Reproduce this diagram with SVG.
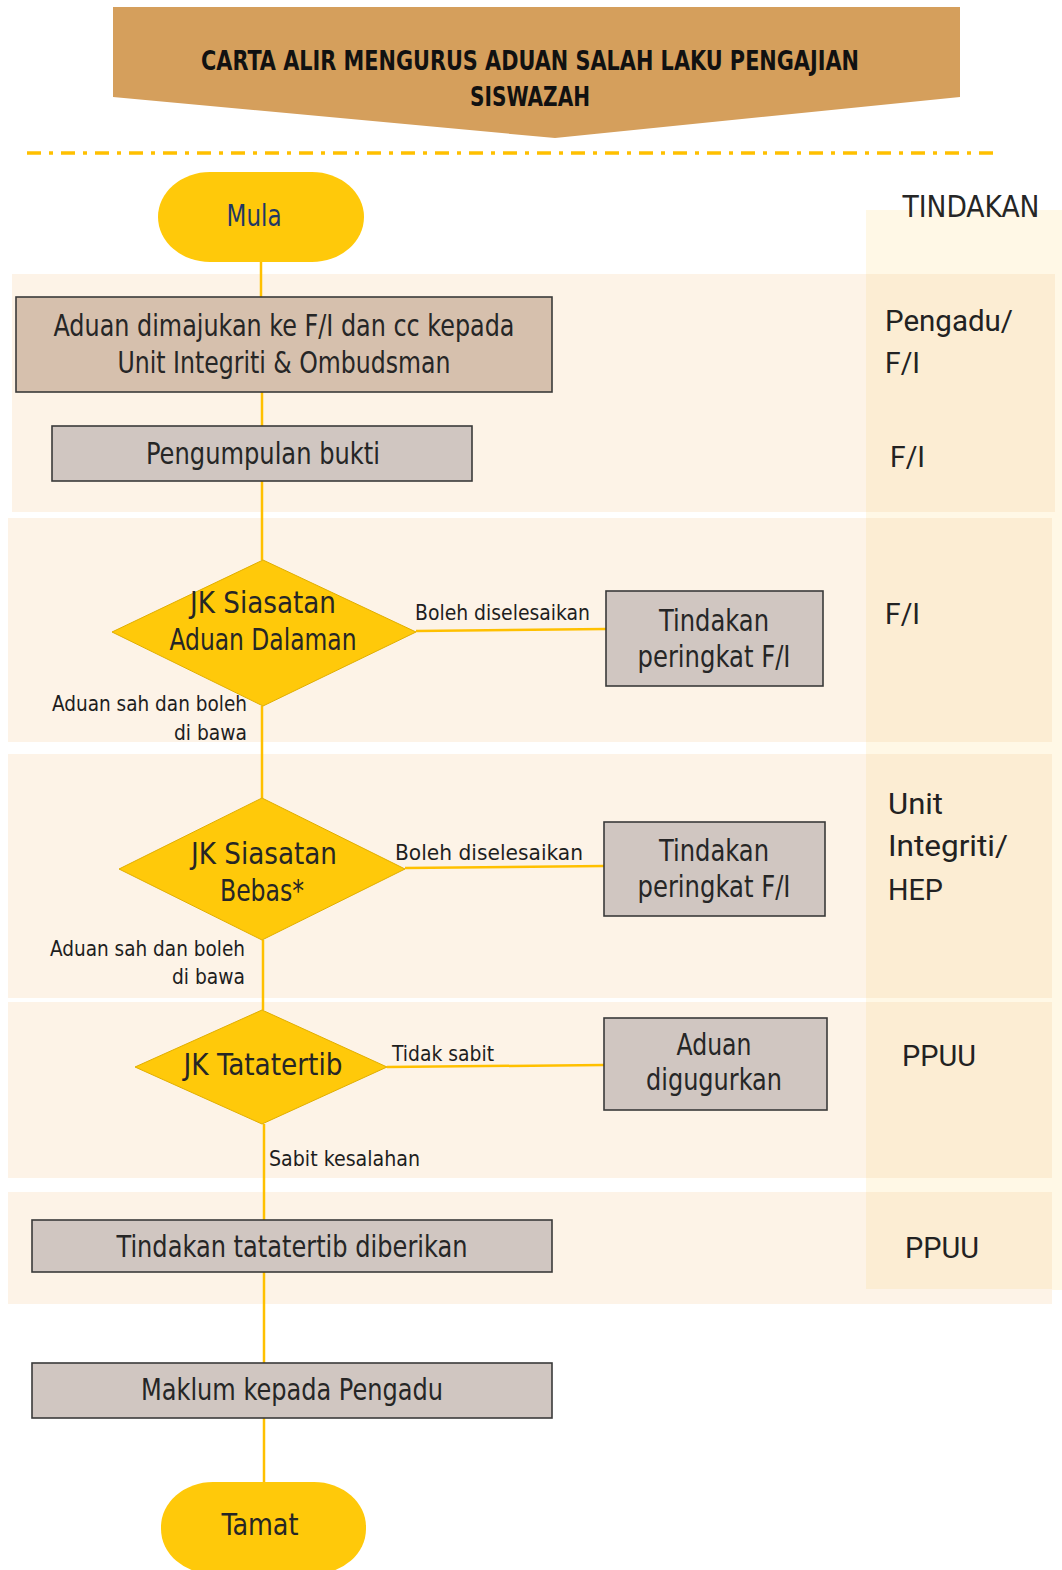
<svg xmlns="http://www.w3.org/2000/svg" width="1062" height="1570" viewBox="0 0 1062 1570">
<style>
.lane{fill:#FDF3E7}
.col{fill:#FFF8E6}
.ov{fill:#FCEDD3}
.box{fill:#D0C6C1;stroke:#3A3A3A;stroke-width:1.6}
.box1{fill:#D6C0AD;stroke:#3A3A3A;stroke-width:1.6}
.dia{fill:#FFC90A;stroke:#E0AE00;stroke-width:1}
.term{fill:#FFC90A}
.t{font-family:"Liberation Sans Narrow","DejaVu Sans Condensed","Roboto Condensed",Roboto,sans-serif;font-size:30px;fill:#262626;text-anchor:middle}
.s{font-family:"Liberation Sans Narrow","DejaVu Sans Condensed","Roboto Condensed",Roboto,sans-serif;font-size:21px;fill:#1E1E1E}
.r{font-family:Roboto,"Liberation Sans",sans-serif;font-size:30px;fill:#222}
.ttl{font-family:"Liberation Sans Narrow","DejaVu Sans Condensed","Roboto Condensed",Roboto,sans-serif;font-size:27px;font-weight:700;fill:#111;text-anchor:middle}
.c{stroke:#FFC000;stroke-width:2.5;fill:none}
</style>

<g id="background">
<rect class="col" x="866" y="210" width="196" height="1080"/>
<rect class="lane" x="12" y="274" width="1043" height="238"/>
<rect class="lane" x="8" y="518" width="1044" height="224"/>
<rect class="lane" x="8" y="754" width="1044" height="244"/>
<rect class="lane" x="8" y="1002" width="1044" height="176"/>
<rect class="lane" x="8" y="1192" width="1044" height="112"/>
<rect class="ov" x="866" y="274" width="189" height="238"/>
<rect class="ov" x="866" y="518" width="186" height="224"/>
<rect class="ov" x="866" y="754" width="186" height="244"/>
<rect class="ov" x="866" y="1002" width="186" height="176"/>
<rect class="ov" x="866" y="1192" width="186" height="97"/>
</g>

<g id="header">
<polygon points="113,7 960,7 960,97 555,138 113,97" fill="#D59F5C"/>
<text class="ttl" x="530" y="70" textLength="658" lengthAdjust="spacingAndGlyphs">CARTA ALIR MENGURUS ADUAN SALAH LAKU PENGAJIAN</text>
<text class="ttl" x="530" y="106" textLength="120" lengthAdjust="spacingAndGlyphs">SISWAZAH</text>
<line x1="27" y1="153" x2="997" y2="153" stroke="#FFC000" stroke-width="3.5" stroke-dasharray="14 8 4 8"/>
</g>

<g id="connectors">
<line class="c" x1="261" y1="262" x2="261" y2="297"/>
<line class="c" x1="262" y1="392" x2="262" y2="426"/>
<line class="c" x1="262" y1="481" x2="262" y2="560"/>
<line class="c" x1="262" y1="706" x2="262" y2="798"/>
<line class="c" x1="263" y1="940" x2="263" y2="1010"/>
<line class="c" x1="264" y1="1124" x2="264" y2="1220"/>
<line class="c" x1="264" y1="1272" x2="264" y2="1363"/>
<line class="c" x1="264" y1="1418" x2="264" y2="1482"/>
<line class="c" x1="416" y1="631" x2="606" y2="629"/>
<line class="c" x1="405" y1="868" x2="604" y2="866"/>
<line class="c" x1="387" y1="1067" x2="604" y2="1065"/>
<text class="s" x="415" y="620" textLength="175" lengthAdjust="spacingAndGlyphs">Boleh diselesaikan</text>
<text class="s" x="247" y="711" text-anchor="end" textLength="195" lengthAdjust="spacingAndGlyphs">Aduan sah dan boleh</text>
<text class="s" x="247" y="740" text-anchor="end" textLength="73" lengthAdjust="spacingAndGlyphs">di bawa</text>
<text class="s" x="395" y="860" textLength="188" lengthAdjust="spacingAndGlyphs">Boleh diselesaikan</text>
<text class="s" x="245" y="956" text-anchor="end" textLength="195" lengthAdjust="spacingAndGlyphs">Aduan sah dan boleh</text>
<text class="s" x="245" y="984" text-anchor="end" textLength="73" lengthAdjust="spacingAndGlyphs">di bawa</text>
<text class="s" x="392" y="1061" textLength="102" lengthAdjust="spacingAndGlyphs">Tidak sabit</text>
<text class="s" x="269" y="1166" textLength="151" lengthAdjust="spacingAndGlyphs">Sabit kesalahan</text>
</g>

<g id="mula">
<rect class="term" x="158" y="172" width="206" height="90" rx="52" ry="45"/>
<text class="t" x="254" y="226" font-size="28" style="fill:#1F3864" textLength="55" lengthAdjust="spacingAndGlyphs">Mula</text>
</g>

<g id="aduan-dimajukan">
<rect class="box1" x="16" y="297" width="536" height="95"/>
<text class="t" x="284" y="336" textLength="461" lengthAdjust="spacingAndGlyphs">Aduan dimajukan ke F/I dan cc kepada</text>
<text class="t" x="284" y="373" textLength="333" lengthAdjust="spacingAndGlyphs">Unit Integriti &amp; Ombudsman</text>
</g>

<g id="pengumpulan-bukti">
<rect class="box" x="52" y="426" width="420" height="55"/>
<text class="t" x="263" y="464" textLength="234" lengthAdjust="spacingAndGlyphs">Pengumpulan bukti</text>
</g>

<g id="jk-siasatan-dalaman">
<polygon class="dia" points="263,560 416,632 263,706 112,632"/>
<text class="t" x="263" y="613" textLength="146" lengthAdjust="spacingAndGlyphs">JK Siasatan</text>
<text class="t" x="263" y="650" textLength="187" lengthAdjust="spacingAndGlyphs">Aduan Dalaman</text>
</g>

<g id="tindakan-fi-1">
<rect class="box" x="606" y="591" width="217" height="95"/>
<text class="t" x="714" y="631" textLength="110" lengthAdjust="spacingAndGlyphs">Tindakan</text>
<text class="t" x="714" y="667" textLength="153" lengthAdjust="spacingAndGlyphs">peringkat F/I</text>
</g>

<g id="jk-siasatan-bebas">
<polygon class="dia" points="262,798 405,869 262,940 119,869"/>
<text class="t" x="264" y="864" textLength="146" lengthAdjust="spacingAndGlyphs">JK Siasatan</text>
<text class="t" x="262" y="901" textLength="84" lengthAdjust="spacingAndGlyphs">Bebas*</text>
</g>

<g id="tindakan-fi-2">
<rect class="box" x="604" y="822" width="221" height="94"/>
<text class="t" x="714" y="861" textLength="110" lengthAdjust="spacingAndGlyphs">Tindakan</text>
<text class="t" x="714" y="897" textLength="153" lengthAdjust="spacingAndGlyphs">peringkat F/I</text>
</g>

<g id="jk-tatatertib">
<polygon class="dia" points="262,1010 387,1067 262,1124 135,1067"/>
<text class="t" x="263" y="1075" textLength="159" lengthAdjust="spacingAndGlyphs">JK Tatatertib</text>
</g>

<g id="aduan-digugurkan">
<rect class="box" x="604" y="1018" width="223" height="92"/>
<text class="t" x="714" y="1055" textLength="75" lengthAdjust="spacingAndGlyphs">Aduan</text>
<text class="t" x="714" y="1090" textLength="136" lengthAdjust="spacingAndGlyphs">digugurkan</text>
</g>

<g id="tindakan-tatatertib">
<rect class="box" x="32" y="1220" width="520" height="52"/>
<text class="t" x="292" y="1257" textLength="351" lengthAdjust="spacingAndGlyphs">Tindakan tatatertib diberikan</text>
</g>

<g id="maklum-pengadu">
<rect class="box" x="32" y="1363" width="520" height="55"/>
<text class="t" x="292" y="1400" textLength="302" lengthAdjust="spacingAndGlyphs">Maklum kepada Pengadu</text>
</g>

<g id="tamat">
<rect class="term" x="161" y="1482" width="205" height="92" rx="52" ry="45"/>
<text class="t" x="260" y="1535" textLength="77" lengthAdjust="spacingAndGlyphs">Tamat</text>
</g>

<g id="tindakan-column">
<text class="t" x="971" y="217" font-size="32" textLength="137" lengthAdjust="spacingAndGlyphs">TINDAKAN</text>
<text class="r" x="885" y="331" textLength="128" lengthAdjust="spacingAndGlyphs">Pengadu/</text>
<text class="r" x="885" y="373" textLength="35" lengthAdjust="spacingAndGlyphs">F/I</text>
<text class="r" x="890" y="467" textLength="35" lengthAdjust="spacingAndGlyphs">F/I</text>
<text class="r" x="885" y="624" textLength="35" lengthAdjust="spacingAndGlyphs">F/I</text>
<text class="r" x="888" y="814" textLength="55" lengthAdjust="spacingAndGlyphs">Unit</text>
<text class="r" x="888" y="856" textLength="120" lengthAdjust="spacingAndGlyphs">Integriti/</text>
<text class="r" x="888" y="900" textLength="55" lengthAdjust="spacingAndGlyphs">HEP</text>
<text class="r" x="902" y="1066" textLength="74" lengthAdjust="spacingAndGlyphs">PPUU</text>
<text class="r" x="905" y="1258" textLength="74" lengthAdjust="spacingAndGlyphs">PPUU</text>
</g>
</svg>
